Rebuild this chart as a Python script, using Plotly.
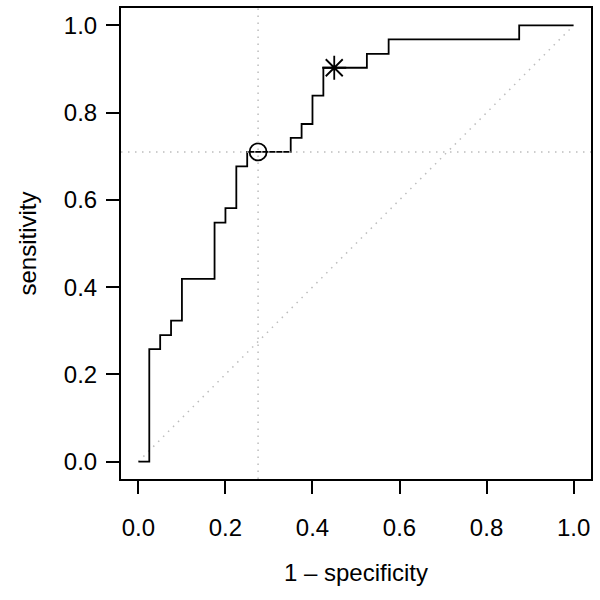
import plotly.graph_objects as go

# ROC step curve vertices (1 - specificity, sensitivity)
fpr = [0.0, 0.025, 0.05, 0.075, 0.1, 0.175, 0.2, 0.225, 0.25, 0.35,
       0.375, 0.4, 0.425, 0.525, 0.575, 0.875, 1.0]
sens = [0.0, 0.258, 0.290, 0.323, 0.419, 0.548, 0.581, 0.677, 0.710, 0.742,
        0.774, 0.839, 0.903, 0.935, 0.968, 1.0, 1.0]

# marked points
circle_pt = (0.275, 0.710)
star_pt = (0.45, 0.903)

# reference lines
vline_x = 0.275
hline_y = 0.710
diag_x = [0.0, 1.0]
diag_y = [0.0, 1.0]

tick_vals = [0.0, 0.2, 0.4, 0.6, 0.8, 1.0]
tick_text = ["0.0", "0.2", "0.4", "0.6", "0.8", "1.0"]

GRAY = "#bdbdbd"
DOT = "1.5px,5.5px"
FS = 24

fig = go.Figure()

fig.add_trace(go.Scatter(x=diag_x, y=diag_y, mode="lines",
                         line=dict(color=GRAY, width=1.5, dash=DOT),
                         hoverinfo="skip", showlegend=False))
fig.add_vline(x=vline_x, line=dict(color=GRAY, width=1.5, dash=DOT))
fig.add_hline(y=hline_y, line=dict(color=GRAY, width=1.5, dash=DOT))

fig.add_trace(go.Scatter(x=fpr, y=sens, mode="lines", line_shape="hv",
                         line=dict(color="black", width=1.8), showlegend=False))

fig.add_trace(go.Scatter(x=[circle_pt[0]], y=[circle_pt[1]], mode="markers",
                         marker=dict(symbol="circle-open", size=17,
                                     line=dict(color="black", width=1.8),
                                     color="black"),
                         showlegend=False))
fig.add_trace(go.Scatter(x=[star_pt[0]], y=[star_pt[1]], mode="markers",
                         marker=dict(symbol="asterisk-open", size=20,
                                     line=dict(color="black", width=1.8),
                                     color="black"),
                         showlegend=False))

axis_common = dict(
    range=[-0.04, 1.04], tickvals=tick_vals, ticktext=tick_text,
    showgrid=False, zeroline=False, showline=True, mirror=True,
    linecolor="black", linewidth=2, ticks="outside", ticklen=13,
    tickwidth=2, tickcolor="black", automargin=False,
    tickfont=dict(size=FS, color="black"),
)

fig.update_layout(
    width=600, height=600,
    margin=dict(l=121, r=9, t=8, b=121),
    paper_bgcolor="white", plot_bgcolor="white",
    font=dict(family="Liberation Sans, Arial, sans-serif", size=FS, color="black"),
    xaxis=dict(**axis_common, ticklabelstandoff=13,
               title=dict(text="1 \u2013 specificity", standoff=24,
                          font=dict(size=FS))),
    yaxis=dict(**axis_common, ticklabelstandoff=4,
               title=dict(text="sensitivity", standoff=20,
                          font=dict(size=FS))),
)

fig.write_html("out.html",
               config={"displayModeBar": False},
               post_script="document.body.style.margin='0';"
                           "document.body.style.padding='0';")
